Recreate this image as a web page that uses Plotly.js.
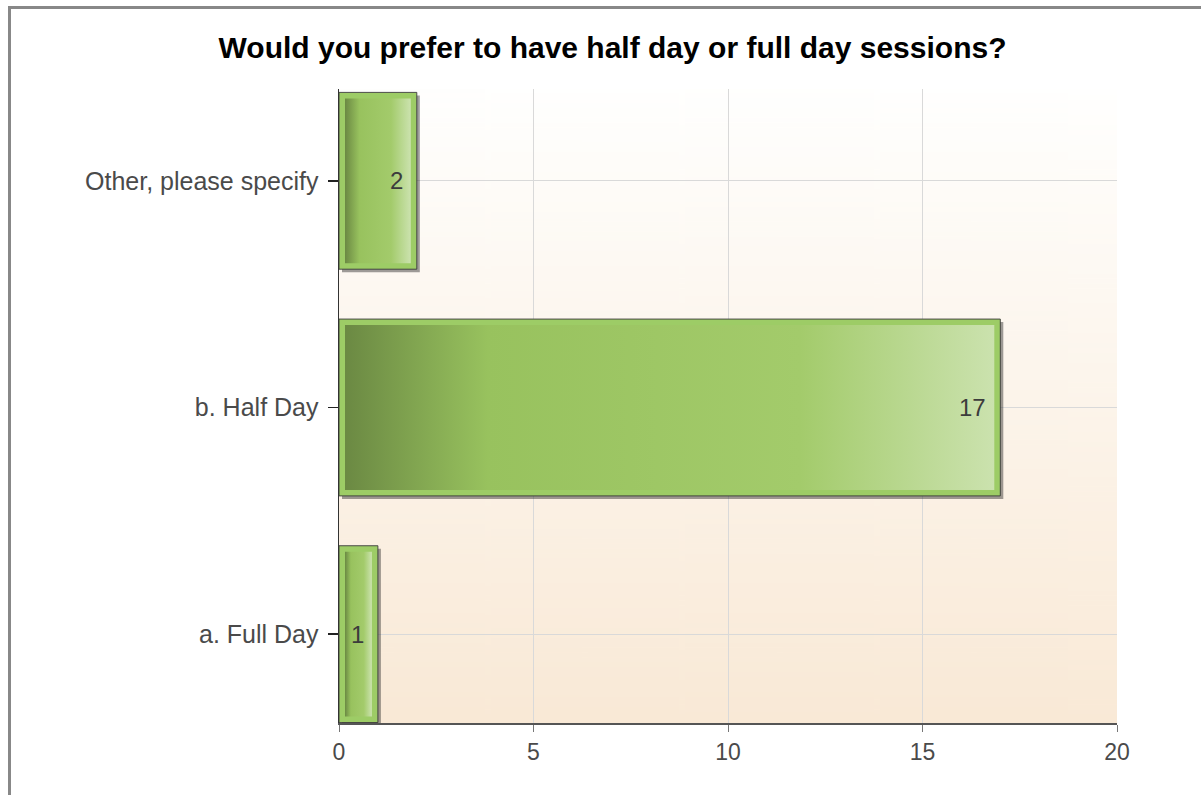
<!DOCTYPE html>
<html><head><meta charset="utf-8">
<script src="https://cdn.plot.ly/plotly-3.0.1.min.js"></script>
<style>
html,body{margin:0;padding:0;background:#fff;overflow:hidden;}
#chart{position:absolute;left:0;top:0;width:1201px;height:795px;}
#frame{position:absolute;left:8px;top:6px;width:1400px;height:1000px;border-left:3px solid #888;border-top:3px solid #888;pointer-events:none;}
</style></head><body>
<div id="chart"></div><div id="frame"></div>
<script>
// ---- data ----
const categories = ["a. Full Day", "b. Half Day", "Other, please specify"];
const counts = [1, 17, 2];
const xTickVals = [0, 5, 10, 15, 20];
const chartTitle = "Would you prefer to have half day or full day sessions?";

// ---- layout constants ----
const W = 1201, H = 795;
const M = {l: 339, r: 84, t: 89, b: 72, pad: 0};
const xRange = [0, 20];
const yRange = [-0.392, 2.405];
const barW = 0.78;
const dx = (xRange[1] - xRange[0]) / (W - M.l - M.r);
const dy = (yRange[1] - yRange[0]) / (H - M.t - M.b);
const FONT = "Liberation Sans, Arial, sans-serif";

const idx = categories.map((_, i) => i);

// background gradient image
const cv = document.createElement('canvas');
cv.width = 8; cv.height = 256;
const cx = cv.getContext('2d');
const g = cx.createLinearGradient(0, 0, 0, 256);
g.addColorStop(0, '#fffffe');
g.addColorStop(1, '#f9e9d6');
cx.fillStyle = g; cx.fillRect(0, 0, 8, 256);
const bgURL = cv.toDataURL('image/png');

const traces = [];
// base bars
traces.push({
  type: 'bar', orientation: 'h', x: counts, y: idx, width: barW,
  marker: {color: '#9dcc66', line: {color: 'rgba(60,60,60,0.9)', width: 1}},
  hoverinfo: 'skip', showlegend: false
});
// shadows and gradient inner fills
counts.forEach((v, i) => {
  const y0 = i - barW / 2, y1 = i + barW / 2;
  const sx = 3 * dx, sy = 3 * dy;
  traces.push({
    type: 'scatter', mode: 'lines', fill: 'toself',
    x: [v, v + sx, v + sx, sx, sx, v, v],
    y: [y1 - sy, y1 - sy, y0 - sy, y0 - sy, y0, y0, y1 - sy],
    line: {width: 0}, fillcolor: 'rgba(40,40,40,0.45)',
    hoverinfo: 'skip', showlegend: false
  });
  const ix = 6 * dx, iy = 6 * dy;
  traces.push({
    type: 'scatter', mode: 'lines', fill: 'toself',
    x: [ix, v - ix, v - ix, ix, ix],
    y: [y0 + iy, y0 + iy, y1 - iy, y1 - iy, y0 + iy],
    line: {width: 0},
    fillgradient: {type: 'horizontal', colorscale: [
      [0, '#6b8943'], [0.22, '#98c25e'], [0.7, '#a3cb6b'], [1, '#cbe2ae']
    ]},
    hoverinfo: 'skip', showlegend: false
  });
});

const annotations = counts.map((v, i) => ({
  x: v, y: i, xref: 'x', yref: 'y', text: String(v), showarrow: false,
  xanchor: 'right', xshift: -12, font: {family: FONT, size: 24, color: '#3c3c3c'}
}));

const layout = {
  width: W, height: H, margin: M,
  paper_bgcolor: '#ffffff', plot_bgcolor: 'rgba(0,0,0,0)',
  hovermode: false, showlegend: false,
  font: {family: FONT, color: '#4a4a4a'},
  title: {text: '<b>' + chartTitle + '</b>', font: {family: FONT, size: 30, color: '#000'},
          xref: 'container', x: 0.51, xanchor: 'center', yref: 'container', y: 1 - 47 / H, yanchor: 'middle'},
  xaxis: {range: xRange, tickvals: xTickVals, ticktext: xTickVals.map(String),
          showgrid: true, gridcolor: '#d9d9d9', gridwidth: 1, zeroline: false,
          showline: true, linecolor: '#555', linewidth: 2,
          ticks: 'outside', ticklen: 7, tickcolor: '#777', tickwidth: 1,
          tickfont: {family: FONT, size: 23, color: '#4a4a4a'}, fixedrange: true},
  yaxis: {range: yRange, tickvals: idx, ticktext: categories,
          showgrid: true, gridcolor: '#d9d9d9', gridwidth: 1, zeroline: false,
          showline: true, linecolor: '#333', linewidth: 1.5,
          ticks: 'outside', ticklen: 10, tickcolor: '#222', tickwidth: 1.5,
          ticklabelstandoff: 4,
          tickfont: {family: FONT, size: 25, color: '#4a4a4a'}, fixedrange: true},
  images: [{source: bgURL, xref: 'x domain', yref: 'y domain', x: 0, y: 1,
            sizex: 1, sizey: 1, sizing: 'stretch', xanchor: 'left', yanchor: 'top', layer: 'below'}],
  annotations: annotations
};

Plotly.newPlot('chart', traces, layout, {displayModeBar: false, staticPlot: true});
</script>
</body></html>
